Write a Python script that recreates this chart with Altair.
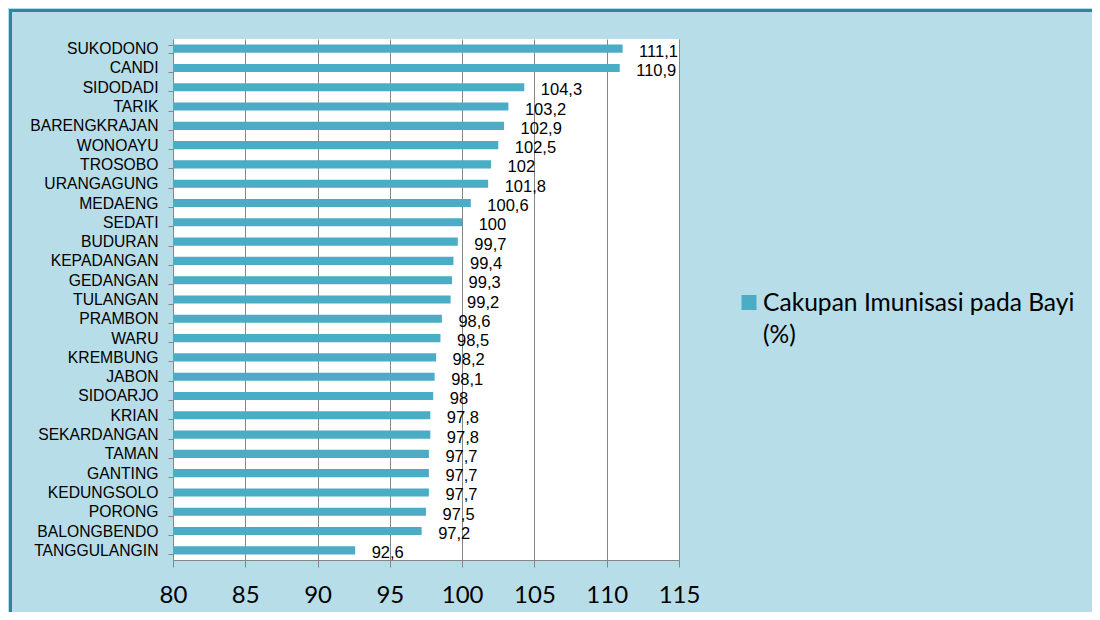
import altair as alt
import pandas as pd

districts = ["SUKODONO", "CANDI", "SIDODADI", "TARIK", "BARENGKRAJAN", "WONOAYU",
             "TROSOBO", "URANGAGUNG", "MEDAENG", "SEDATI", "BUDURAN", "KEPADANGAN",
             "GEDANGAN", "TULANGAN", "PRAMBON", "WARU", "KREMBUNG", "JABON",
             "SIDOARJO", "KRIAN", "SEKARDANGAN", "TAMAN", "GANTING", "KEDUNGSOLO",
             "PORONG", "BALONGBENDO", "TANGGULANGIN"]
values = [111.1, 110.9, 104.3, 103.2, 102.9, 102.5, 102, 101.8, 100.6, 100, 99.7,
          99.4, 99.3, 99.2, 98.6, 98.5, 98.2, 98.1, 98, 97.8, 97.8, 97.7, 97.7,
          97.7, 97.5, 97.2, 92.6]
x_ticks = [80, 85, 90, 95, 100, 105, 110, 115]
series_name = ["Cakupan Imunisasi pada Bayi", "(%)"]

df = pd.DataFrame({
    "district": districts,
    "value": values,
    "label": [f"{v:g}".replace(".", ",") for v in values],
})

BAR = "#4bacc6"
GRID = "#868686"
BG = "#b7dde8"
BORDER = "#31849b"

W, H = 506, 521

y_enc = alt.Y("district:N", sort=districts, title=None,
              scale=alt.Scale(paddingInner=0.58, paddingOuter=0.29),
              axis=alt.Axis(labelFont="Liberation Sans", labelFontSize=15.7,
                            labelColor="black", tickColor=GRID, tickSize=5,
                            tickBand="extent", domainColor=GRID, labelPadding=10,
                            grid=False))
x_enc = alt.X("value:Q", title=None,
              scale=alt.Scale(domain=[80, 115], nice=False, zero=False),
              axis=alt.Axis(values=x_ticks, labelFont="Lato", labelFontSize=24,
                            labelColor="black", tickColor=GRID, tickSize=7,
                            domainColor=GRID, gridColor=GRID, gridOpacity=1,
                            labelPadding=16, labelFlush=False, grid=True))

base = alt.Chart(df)

bars = base.mark_bar(color=BAR).encode(y=y_enc, x=x_enc, x2=alt.datum(80))
text = base.mark_text(align="left", baseline="middle", dx=16.5, dy=3,
                      font="Liberation Sans", fontSize=16.5, color="black").encode(
    y=alt.Y("district:N", sort=districts), x=alt.X("value:Q"), text="label:N")

leg_df = pd.DataFrame({"name": ["\n".join(series_name)]})
leg_sq = alt.Chart(leg_df).mark_square(color=BAR, opacity=1, size=225).encode(
    x=alt.value(576), y=alt.value(263.5))
leg_txt = alt.Chart(leg_df).mark_text(align="left", baseline="middle", font="Lato",
                                      fontSize=24.6, color="black", lineBreak="\n",
                                      lineHeight=32).encode(
    x=alt.value(590), y=alt.value(265), text="name:N")

border_df = pd.DataFrame({"k": [0]})
border_left = alt.Chart(border_df).mark_rule(color=BORDER, strokeWidth=3).encode(
    x=alt.value(-162.5), y=alt.value(-30), y2=alt.value(700))
border_top = alt.Chart(border_df).mark_rule(color=BORDER, strokeWidth=3).encode(
    y=alt.value(-28.5), x=alt.value(-164), x2=alt.value(1200))

chart = alt.layer(bars, text, leg_sq, leg_txt, border_left, border_top).properties(
    width=W, height=H,
    autosize=alt.AutoSizeParams(type="none"),
    padding={"left": 165, "top": 31, "right": 413, "bottom": 52},
    background=BG,
).configure_view(fill="white", stroke=None)

chart.save("out.html", embed_options={"renderer": "svg", "actions": False})
